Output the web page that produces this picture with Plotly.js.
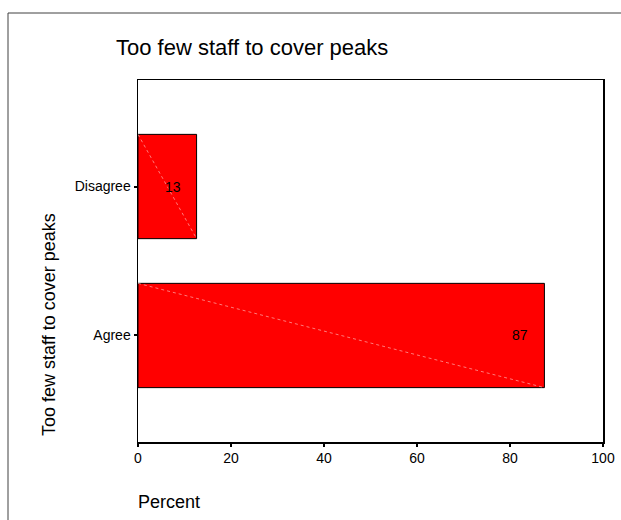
<!DOCTYPE html>
<html>
<head>
<meta charset="utf-8">
<script src="https://cdn.plot.ly/plotly-3.0.1.min.js"></script>
<style>
html,body{margin:0;padding:0;background:#fff;}
#chart{width:621px;height:520px;}
</style>
</head>
<body>
<div id="chart"></div>
<script>
// Data
const categories = ["Agree", "Disagree"];
const percentValues = [87.4, 12.6];
const valueLabels = ["87", "13"];
const xTickValues = [0, 20, 40, 60, 80, 100];
const chartTitle = "Too few staff to cover peaks";
const yAxisTitle = "Too few staff to cover peaks";
const xAxisTitle = "Percent";

const FONT = "Liberation Sans, Arial, sans-serif";
const barWidth = 0.7;
const yIdx = categories.map((_, i) => i);

const traces = [{
  type: "bar",
  orientation: "h",
  x: percentValues,
  y: yIdx,
  width: barWidth,
  marker: {color: "#ff0000", line: {color: "#000000", width: 1}},
  hoverinfo: "skip",
  showlegend: false
}];

// faint diagonal lines inside each bar (top-left to bottom-right)
percentValues.forEach((v, i) => {
  traces.push({
    type: "scatter",
    mode: "lines",
    x: [0, v],
    y: [i + barWidth / 2, i - barWidth / 2],
    line: {color: "rgba(255,170,170,0.9)", width: 0.8, dash: "dot"},
    hoverinfo: "skip",
    showlegend: false
  });
});

const annotations = percentValues.map((v, i) => ({
  x: v, y: i, xref: "x", yref: "y",
  text: valueLabels[i],
  showarrow: false,
  xanchor: "right", yanchor: "middle",
  xshift: -14,
  font: {family: FONT, size: 14, color: "#000"}
}));

// y-axis title placed as annotation
annotations.push({
  xref: "paper", yref: "paper",
  x: (49 - 138) / 465, y: (442 - 325) / 362,
  text: yAxisTitle, textangle: -90, showarrow: false,
  xanchor: "center", yanchor: "middle",
  font: {family: FONT, size: 18, color: "#000"}
});
// x-axis title
annotations.push({
  xref: "paper", yref: "paper",
  x: 0, y: (442 - 502) / 362,
  text: xAxisTitle, showarrow: false,
  xanchor: "left", yanchor: "middle", xshift: -2,
  font: {family: FONT, size: 18, color: "#000"}
});

const layout = {
  width: 621, height: 520,
  margin: {l: 138, r: 18, t: 80, b: 78},
  paper_bgcolor: "#fff", plot_bgcolor: "#fff",
  font: {family: FONT, color: "#000"},
  title: {
    text: chartTitle,
    x: 116 / 621, xanchor: "left", xref: "container",
    y: 1 - 47 / 520, yanchor: "middle", yref: "container",
    font: {family: FONT, size: 22, color: "#000"}
  },
  xaxis: {
    range: [0, 100],
    tickvals: xTickValues,
    ticks: "outside", ticklen: 3, tickwidth: 2, tickcolor: "#000",
    showline: true, linecolor: "#000", linewidth: 1.5, mirror: true,
    showgrid: false, zeroline: false,
    tickfont: {family: FONT, size: 14, color: "#000"}
  },
  yaxis: {
    range: [-0.715, 1.715],
    tickvals: yIdx, ticktext: categories,
    ticks: "outside", ticklen: 3, tickwidth: 2, tickcolor: "#000",
    showline: true, linecolor: "#000", linewidth: 1.5, mirror: true,
    showgrid: false, zeroline: false,
    tickfont: {family: FONT, size: 14, color: "#000"}
  },
  annotations: annotations,
  shapes: [{
    type: "rect", xref: "paper", yref: "paper",
    x0: (8 - 138) / 465, x1: 1.2,
    y0: -0.5, y1: (442 - 13) / 362,
    line: {color: "#404040", width: 1}, fillcolor: "rgba(0,0,0,0)",
    layer: "below"
  }]
};

Plotly.newPlot("chart", traces, layout, {displayModeBar: false, staticPlot: true});
</script>
</body>
</html>
